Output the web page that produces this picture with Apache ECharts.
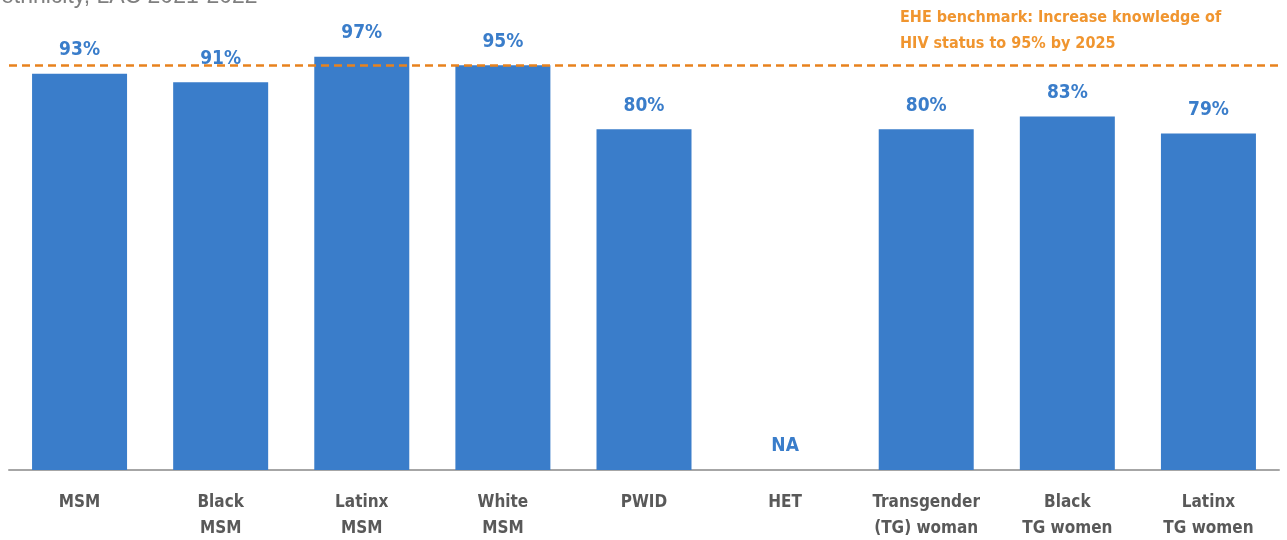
<!DOCTYPE html>
<html>
<head>
<meta charset="utf-8">
<script src="https://cdn.jsdelivr.net/npm/echarts@6/dist/echarts.min.js"></script>
<style>
  html, body { margin: 0; padding: 0; background: #fff; }
  #chart { width: 1287px; height: 540px; }
</style>
</head>
<body>
<div id="chart"></div>
<script>
var categories = ['MSM', 'Black\nMSM', 'Latinx\nMSM', 'White\nMSM', 'PWID', 'HET',
    'Transgender\n(TG) woman', 'Black\nTG women', 'Latinx\nTG women'];
var values = [93, 91, 97, 95, 80, null, 80, 83, 79];
var benchmark = 95;
var benchmarkText = 'EHE benchmark: Increase knowledge of\nHIV status to 95% by 2025';
var titleText = 'ethnicity, LAC 2021-2022';

var font = '"DejaVu Sans", sans-serif';
var chart = echarts.init(document.getElementById('chart'));

// HET has no value: draw an empty bar whose label reads NA
var barData = values.map(function (v) {
    return v === null ? { value: 0, label: { formatter: 'NA' } } : v;
});

chart.setOption({
    animation: false,
    title: {
        text: titleText,
        left: -4,
        top: -20,
        textStyle: { color: '#7f7f7f', fontSize: 23, fontWeight: 'normal', fontFamily: 'Liberation Sans' }
    },
    grid: { left: 9, right: 8, top: 44, bottom: 70, outerBoundsMode: 'none' },
    xAxis: {
        type: 'category',
        data: categories,
        axisTick: { show: false },
        axisLine: { lineStyle: { color: '#a6a6a6', width: 2 } },
        axisLabel: {
            color: '#595959',
            fontSize: 17,
            fontWeight: 'bold condensed',
            fontFamily: font,
            lineHeight: 26,
            margin: 20,
            interval: 0
        }
    },
    yAxis: {
        type: 'value',
        min: 0,
        max: 100,
        show: false
    },
    graphic: [{
        type: 'text',
        left: 900,
        top: 5,
        style: {
            text: benchmarkText,
            fill: '#f0952f',
            font: 'bold condensed 16px ' + font,
            lineHeight: 26
        }
    }],
    series: [{
        type: 'bar',
        data: barData,
        barWidth: 95,
        itemStyle: { color: '#3a7dca' },
        label: {
            show: true,
            position: 'top',
            distance: 14,
            color: '#3a7dca',
            fontSize: 19,
            fontWeight: 'bold condensed',
            fontFamily: font,
            formatter: '{c}%'
        },
        markLine: {
            silent: true,
            symbol: 'none',
            label: { show: false },
            lineStyle: { color: '#e8821e', type: [8, 5], width: 2.5 },
            data: [{ yAxis: benchmark }]
        }
    }]
});
</script>
</body>
</html>
